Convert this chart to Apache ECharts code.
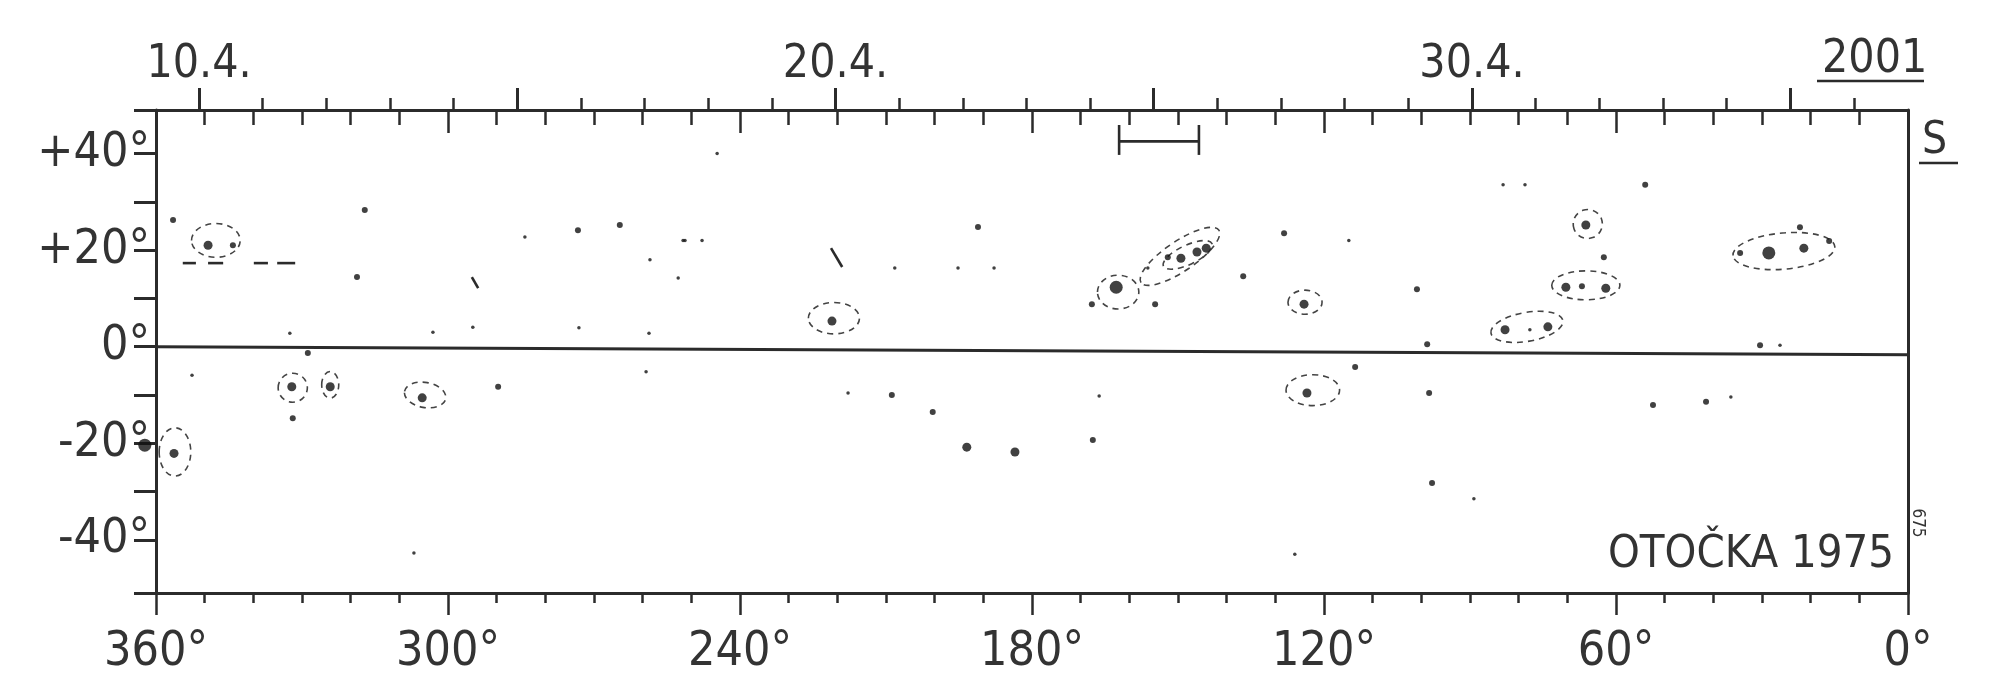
<!DOCTYPE html>
<html><head><meta charset="utf-8">
<script src="https://cdn.jsdelivr.net/npm/echarts@6/dist/echarts.min.js"></script>
<style>html,body{margin:0;padding:0;background:#fff}#c{width:2000px;height:695px}</style>
</head><body><div id="c"></div>
<script>
// ---- data ----
const lonLabels = [360, 300, 240, 180, 120, 60, 0];
const latLabels = [-40, -20, 0, 20, 40];
const latTicks = [-51, -40, -30, -20, -10, 0, 10, 20, 30, 40, 49];
const dateLabels = ['10.4.', '20.4.', '30.4.'];
const dateLabelDays = [10, 20, 30];
const dayTicks = [10,11,12,13,14,15,16,17,18,19,20,21,22,23,24,25,26,27,28,29,30,31,32,33,34,35,36];
const dayTicksLong = [10, 15, 20, 25, 30, 35];
const dayRange = [9.3244, 36.85];
const latRange = [-51, 49];
// equator as drawn [lon, lat]
const equator = [[360, 0], [-6.5, -1.7]];
// umbrae / spots [lon, lat, size class]
const spots = [
 [349.3, 21.0, 3], [344.2, 21.0, 2],
 [328.8, -1.3, 2], [332.1, -8.3, 3], [324.2, -8.3, 3], [331.9, -14.8, 2],
 [305.3, -10.6, 3], [289.7, -8.3, 2], [259.3, -5.2, 1],
 [362.3, -20.4, 4], [356.3, -22.1, 3], [352.6, -5.9, 1], [307, -42.7, 1],
 [208.8, -10, 2], [200.4, -13.5, 2], [193.4, -20.8, 3], [183.5, -21.8, 3], [167.5, -19.3, 2], [166.2, -10.2, 1],
 [123.5, -9.6, 3], [217.8, -9.6, 1], [126, -43, 1],
 [113.6, -4.2, 2], [98.4, -9.6, 2], [97.8, -28.2, 2], [52.4, -12.1, 2], [41.5, -11.4, 2], [36.4, -10.4, 1], [89.2, -31.5, 1],
 [162.7, 12.3, 4], [167.7, 8.8, 2], [154.7, 8.8, 2],
 [149.4, 18.3, 3], [146.1, 19.6, 3], [144.2, 20.4, 3], [152.1, 18.5, 2], [156.2, 16.3, 1],
 [136.6, 14.6, 2], [124.1, 8.8, 3], [221.1, 5.3, 3],
 [66.2, 25.2, 3], [70.3, 12.3, 3], [67, 12.5, 2], [62.1, 12.1, 3],
 [82.8, 3.5, 3], [74, 4.1, 3], [77.7, 3.5, 1], [100.9, 11.9, 2],
 [28.6, 19.4, 4], [34.5, 19.4, 2], [21.4, 20.4, 3], [22.2, 24.7, 2], [16.2, 21.9, 2],
 [98.8, 0.5, 2], [30.4, 0.3, 2], [26.3, 0.3, 1],
 [317.1, 28.3, 2], [318.7, 14.4, 2], [273.3, 24.1, 2], [264.7, 25.2, 2], [284.2, 22.7, 1], [258.5, 18, 1],
 [251.3, 22, 1], [332.5, 2.8, 1], [303.1, 3, 1], [294.9, 4, 1], [273.1, 3.9, 1], [258.7, 2.8, 1], [356.5, 26.2, 2],
 [251.7, 22, 1], [247.8, 22, 1], [244.7, 40, 1], [252.7, 14.2, 1], [208.2, 16.3, 1], [195.2, 16.3, 1],
 [187.8, 16.3, 1], [191.1, 24.8, 2], [128.2, 23.5, 2], [114.9, 22, 1], [62.5, 18.5, 2], [54, 33.5, 2],
 [83.2, 33.5, 1], [78.7, 33.5, 1]
];
// penumbra outlines [lon, lat, width deg, height deg, rotation deg]
const penumbrae = [
 [347.7, 22, 10, 7, 0], [331.9, -8.5, 6, 6, 0], [324.2, -7.9, 3.5, 5.5, 0], [304.7, -10, 8.6, 5.2, -10],
 [356.1, -21.8, 6.5, 10, 0], [122.3, -9, 11, 6.4, 0], [162.3, 11.3, 8.5, 7, 0], [149.6, 18.7, 19.3, 6.2, 34],
 [148, 19, 11, 4, 25], [123.9, 9.2, 7, 5, 0], [220.7, 5.9, 10.5, 6.5, 0], [65.8, 25.4, 6, 6, 20],
 [66.2, 12.7, 14, 6, 0], [78.3, 4.1, 15, 6, 10], [25.5, 19.8, 21, 7.5, 5]
];
// pen strokes [lon1, lat1, lon2, lat2]
const strokes = [
 [354.5, 17.3, 351.8, 17.3], [349.3, 17.3, 346.2, 17.3], [339.9, 17.3, 337, 17.3], [335.1, 17.3, 331.4, 17.3],
 [295.1, 14.4, 293.8, 12.1], [221.3, 20.4, 219, 16.5],
 [162.1, 42.5, 145.7, 42.5], [162.1, 45.9, 162.1, 39.7], [145.7, 45.9, 145.7, 39.7]
];
const spotPx = [0, 3.5, 6, 9, 13];

// ---- chart ----
const FONT = '"DejaVu Sans Condensed","DejaVu Sans",sans-serif';
const INK = '#2b2b2b';
const chart = echarts.init(document.getElementById('c'), null, {renderer: 'canvas'});
const lonBase = {type: 'value', min: 0, max: 360, inverse: true, splitLine: {show: false}};
const lineStyle = {color: INK, width: 3};
const noLine = {show: false, onZero: false};
chart.setOption({
  backgroundColor: '#fff',
  animation: false,
  grid: {left: 156, right: 92, top: 110, bottom: 102},
  xAxis: [
    Object.assign({}, lonBase, {position: 'bottom', interval: 10,
      axisLine: {show: true, onZero: false, lineStyle: lineStyle},
      axisTick: {show: true, length: 10, lineStyle: {color: INK, width: 2.5}},
      axisLabel: {show: true, margin: 36, fontFamily: FONT, fontSize: 48, color: '#333',
        formatter: v => lonLabels.indexOf(v) >= 0 ? v + '°' : ''}}),
    Object.assign({}, lonBase, {position: 'bottom', interval: 60,
      axisLine: noLine, axisTick: {show: true, length: 22, lineStyle: {color: INK, width: 2.5}},
      axisLabel: {show: false}}),
    Object.assign({}, lonBase, {position: 'top', interval: 10,
      axisLine: {show: true, onZero: false, lineStyle: lineStyle},
      axisTick: {show: true, inside: true, length: 15, lineStyle: {color: INK, width: 2.5}},
      axisLabel: {show: false}}),
    Object.assign({}, lonBase, {position: 'top', interval: 60,
      axisLine: noLine, axisTick: {show: true, inside: true, length: 23, lineStyle: {color: INK, width: 2.5}},
      axisLabel: {show: false}}),
    {type: 'value', position: 'top', min: dayRange[0], max: dayRange[1], splitLine: {show: false},
      axisLine: noLine,
      axisTick: {show: true, length: 12, customValues: dayTicks, lineStyle: {color: INK, width: 2.5}},
      axisLabel: {show: true, margin: 22, fontFamily: FONT, fontSize: 46, color: '#333', customValues: dateLabelDays,
        formatter: v => dateLabels[dateLabelDays.indexOf(Math.round(v))] || ''}},
    {type: 'value', position: 'top', min: dayRange[0], max: dayRange[1], splitLine: {show: false},
      axisLine: noLine,
      axisTick: {show: true, length: 22, customValues: dayTicksLong, lineStyle: {color: INK, width: 3}},
      axisLabel: {show: false}}
  ],
  yAxis: [
    {type: 'value', position: 'left', min: latRange[0], max: latRange[1], splitLine: {show: false},
      axisLine: {show: true, onZero: false, lineStyle: lineStyle},
      axisTick: {show: true, length: 22, customValues: latTicks, lineStyle: {color: INK, width: 3}},
      axisLabel: {show: true, margin: 6, fontFamily: FONT, fontSize: 48, color: '#333', customValues: latLabels,
        formatter: v => (v > 0 ? '+' : '') + v + '°'}},
    {type: 'value', position: 'right', min: latRange[0], max: latRange[1], splitLine: {show: false},
      axisLine: {show: true, onZero: false, lineStyle: lineStyle}, axisTick: {show: false}, axisLabel: {show: false}}
  ],
  series: [
    {type: 'line', xAxisIndex: 0, yAxisIndex: 0, data: equator, symbol: 'none', clip: false,
      lineStyle: {color: INK, width: 3}, silent: true},
    {type: 'custom', xAxisIndex: 0, yAxisIndex: 0, data: penumbrae, clip: false,
      renderItem: (params, api) => {
        const c = api.coord([api.value(0), api.value(1)]);
        const w = api.size([api.value(2), 0])[0];
        const h = api.size([0, api.value(3)])[1];
        return {type: 'ellipse', x: c[0], y: c[1], rotation: api.value(4) * Math.PI / 180,
          shape: {cx: 0, cy: 0, rx: w / 2, ry: h / 2},
          style: {fill: 'none', stroke: '#444', lineWidth: 1.6, lineDash: [6, 5]}};
      }},
    {type: 'custom', xAxisIndex: 0, yAxisIndex: 0, data: strokes, clip: false,
      renderItem: (params, api) => {
        const a = api.coord([api.value(0), api.value(1)]);
        const b = api.coord([api.value(2), api.value(3)]);
        return {type: 'line', shape: {x1: a[0], y1: a[1], x2: b[0], y2: b[1]},
          style: {stroke: INK, lineWidth: 2.6}};
      }},
    {type: 'scatter', xAxisIndex: 0, yAxisIndex: 0, data: spots, clip: false,
      symbol: 'circle', symbolSize: v => spotPx[v[2]],
      itemStyle: {color: '#111'}}
  ],
  graphic: [
    {type: 'text', x: 1822, y: 60, style: {text: '2001', font: '46px ' + FONT, fill: '#333', align: 'left', verticalAlign: 'middle'}},
    {type: 'line', shape: {x1: 1817, y1: 81, x2: 1924, y2: 81}, style: {stroke: INK, lineWidth: 2.5}},
    {type: 'text', x: 1922, y: 142, style: {text: 'S', font: '44px ' + FONT, fill: '#333', align: 'left', verticalAlign: 'middle'}},
    {type: 'line', shape: {x1: 1919, y1: 163, x2: 1958, y2: 163}, style: {stroke: INK, lineWidth: 2.5}},
    {type: 'text', x: 1894, y: 555, style: {text: 'OTOČKA 1975', font: '45px ' + FONT, fill: '#333',
      align: 'right', verticalAlign: 'middle'}},
    {type: 'text', x: 1917, y: 523, rotation: -Math.PI / 2,
      style: {text: '675', font: '17px ' + FONT, fill: '#333', align: 'center', verticalAlign: 'middle'}}
  ]
});
</script></body></html>
